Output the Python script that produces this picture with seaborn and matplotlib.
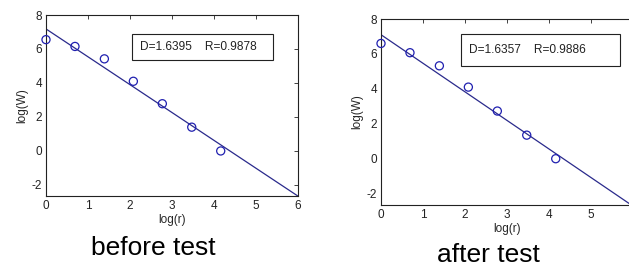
import numpy as np
import pandas as pd
import matplotlib
matplotlib.use("Agg")
import matplotlib.pyplot as plt
import seaborn as sns

# data
log_r = [0.0, 0.69, 1.39, 2.08, 2.77, 3.47, 4.16]
logw_before = [6.55, 6.15, 5.42, 4.1, 2.78, 1.4, 0.0]
logw_after = [6.6, 6.07, 5.32, 4.1, 2.73, 1.35, 0.0]
fit_before = {"D": 1.6395, "R": 0.9878, "b": 7.18}
fit_after = {"D": 1.6357, "R": 0.9886, "b": 7.1}
captions = ["before test", "after test"]
xticks = [0, 1, 2, 3, 4, 5, 6]
yticks = [-2, 0, 2, 4, 6, 8]

sns.set_theme(style="white")
plt.rcParams["font.family"] = ["Liberation Sans", "DejaVu Sans"]
plt.rcParams["axes.unicode_minus"] = False

W, H = 629, 269
fig = plt.figure(figsize=(W / 100, H / 100), dpi=100)

panels = [
    # axes box (left, bottom, width, height) in px, data, fit, caption pos, text box
    ((46, 196, 252, 181), logw_before, fit_before, (153, 248), (132, 34, 141, 26)),
    ((381, 205, 252, 186), logw_after, fit_after, (488, 255), (461, 34, 159, 32)),
]

for i, ((l, b, w, h), yvals, fit, cap, box) in enumerate(panels):
    ax = fig.add_axes([l / W, (H - b) / H, w / W, h / H])
    df = pd.DataFrame({"log(r)": log_r, "log(W)": yvals})
    line_x = np.array([0, 6])
    line_df = pd.DataFrame({"x": line_x, "y": fit["b"] - fit["D"] * line_x})
    sns.lineplot(data=line_df, x="x", y="y", ax=ax, color="#2a2a8c", lw=0.9)
    sns.scatterplot(data=df, x="log(r)", y="log(W)", ax=ax, marker="o", s=34,
                    facecolors="none", edgecolor="#2020b0", linewidth=0.9,
                    clip_on=False, zorder=5)
    ax.set_xlim(0, 6)
    ax.set_ylim(-2.65, 8)
    ax.set_xticks(xticks)
    ax.set_yticks(yticks)
    ax.tick_params(direction="in", length=3, width=0.6, labelsize=8.5,
                   top=True, right=True, pad=3, colors="#222222")
    for sp in ax.spines.values():
        sp.set_color("#222222")
        sp.set_linewidth(0.8)
    ax.set_xlabel("log(r)", fontsize=8.5, labelpad=1)
    ax.set_ylabel("log(W)", fontsize=8.5, labelpad=2)

    bx, by, bw, bh = box
    fig.patches.append(plt.Rectangle((bx / W, (H - by - bh) / H), bw / W, bh / H,
                                     transform=fig.transFigure, fill=True,
                                     facecolor="white", edgecolor="#222222", lw=0.8))
    fig.text((bx + 8) / W, (H - by - bh / 2) / H,
             f"D={fit['D']:.4f}    R={fit['R']:.4f}",
             fontsize=8.6, va="center", ha="left", color="#222222")
    fig.text(cap[0] / W, (H - cap[1]) / H, captions[i],
             fontsize=19, ha="center", va="center", color="black")

fig.savefig("out.png", dpi=100)
